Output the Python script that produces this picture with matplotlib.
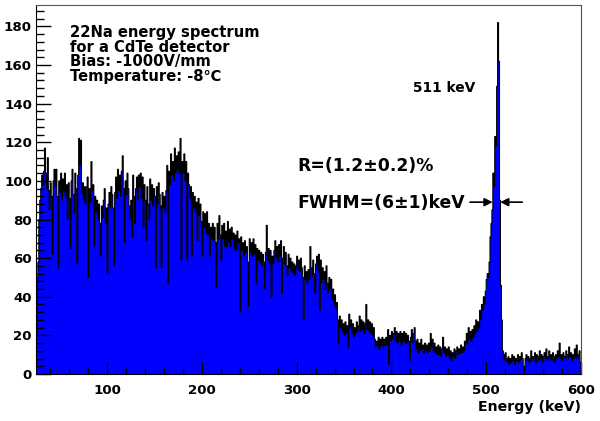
import numpy as np
import matplotlib
matplotlib.use("Agg")
import matplotlib.pyplot as plt
from matplotlib.ticker import MultipleLocator

plt.rcParams['font.family'] = ['DejaVu Sans']
plt.rcParams['font.weight'] = 'bold'

# 1 keV bins starting at 25 keV
e_start = 25
counts_lowE = [
    21, 50, 58, 80, 90, 96, 103, 98, 105, 117,
    104, 96, 112, 95, 85, 99, 92, 62, 100, 106,
    97, 106, 92, 55, 100, 94, 104, 90, 101, 95,
    104, 92, 98, 80, 99, 91, 65, 100, 106, 93,
    83, 104, 96, 57, 103, 122, 108, 121, 94, 99,
    90, 97, 88, 97, 102, 50, 96, 89, 110, 95,
    98, 66, 92, 84, 90, 80, 88, 78, 61, 87,
    81, 90, 96, 78, 86, 52, 88, 94, 86, 97,
    93, 86, 56, 94, 102, 91, 106, 95, 103, 92,
    105, 113, 96, 68, 100, 93, 104, 96, 87, 80,
    90, 71, 103, 92, 78, 96, 102, 90, 103, 97,
    104, 91, 102, 76, 98, 90, 69, 97, 88, 80,
    101, 90, 98, 87, 96, 92, 55, 97, 88, 99,
    93, 87, 55, 94, 86, 92, 84, 95, 108, 47,
    105, 98, 114, 103, 110, 100, 117, 104, 113, 106,
    115, 104, 122, 59, 110, 104, 114, 100, 110, 59,
    104, 98, 91, 97, 61, 94, 86, 92, 84, 89,
    69, 91, 82, 88, 79, 61, 84, 76, 83, 73,
    84, 72, 78, 61, 76, 70, 78, 69, 76, 68,
    45, 78, 70, 82, 72, 59, 77, 70, 78, 66,
]
counts_compton = [
    74, 66, 79, 68, 75, 66, 76, 70, 73, 65,
    72, 64, 74, 68, 70, 32, 71, 64, 68, 61,
    69, 63, 66, 58, 35, 70, 63, 68, 61, 70,
    62, 67, 47, 65, 59, 64, 57, 63, 56, 62,
    58, 44, 63, 77, 59, 65, 57, 64, 40, 61,
    57, 64, 69, 60, 66, 58, 67, 61, 69, 42,
    60, 66, 57, 63, 56, 51, 62, 55, 60, 53,
    58, 52, 57, 51, 56, 61, 54, 59, 53, 60,
    55, 50, 28, 56, 49, 53, 47, 54, 49, 66,
    55, 50, 59, 52, 42, 57, 61, 54, 62, 33,
    59, 47, 55, 49, 53, 44, 56, 47, 42, 50,
    44, 49, 39, 44, 36, 41, 34, 37, 28, 16,
    30, 24, 28, 22, 26, 20, 27, 21, 25, 14,
    31, 24, 28, 21, 26, 19, 24, 21, 27, 22,
    25, 30, 22, 28, 23, 27, 21, 26, 36, 23,
    28, 22, 27, 21, 26, 20, 24, 18, 14, 17,
    15, 19, 13, 18, 15, 19, 14, 18, 15, 19,
    15, 23, 5, 20, 17, 22, 18, 21, 24, 17,
    22, 16, 21, 17, 22, 15, 21, 17, 22, 16,
    21, 16, 20, 17, 7, 19, 23, 16, 21, 24,
]
counts_peak = [
    17, 13, 18, 11, 16, 12, 18, 13, 15, 11,
    16, 12, 15, 11, 16, 12, 21, 14, 18, 12,
    16, 11, 14, 10, 15, 10, 14, 9, 13, 19,
    11, 14, 9, 13, 10, 14, 8, 12, 7, 11,
    9, 13, 8, 12, 14, 10, 13, 11, 15, 11,
    14, 12, 17, 15, 21, 16, 24, 18, 22, 17,
    23, 19, 25, 21, 28, 22, 27, 24, 33, 28,
    36, 33, 40, 36, 43, 49, 52, 50, 58, 71,
    78, 85, 104, 97, 123, 118, 149, 182, 162, 90,
    46, 28, 12, 10, 7, 11, 8, 6, 9, 5,
    8, 6, 10, 7, 9, 5, 8, 7, 10, 6,
    9, 7, 11, 8, 4, 2, 8, 10, 7, 9,
    6, 8, 12, 7, 9, 8, 11, 6, 10, 9,
    7, 12, 8, 10, 6, 9, 11, 8, 13, 7,
    9, 12, 8, 10, 7, 11, 9, 6, 10, 8,
    12, 9, 16, 8, 10, 7, 11, 9, 8, 12,
    10, 8, 14, 9, 11, 7, 10, 8, 13, 9,
    15, 8, 10, 12, 6,
]

info_lines = ["22Na energy spectrum", "for a CdTe detector",
              "Bias: -1000V/mm", "Temperature: -8\u2103"]
resolution_txt = "R=(1.2\u00b10.2)%"
fwhm_txt = "FWHM=(6\u00b11)keV"
fwhm_lo, fwhm_hi, fwhm_y = 509.7, 511.8, 89

counts = np.array(counts_lowE + counts_compton + counts_peak, dtype=float)
edges = e_start + np.arange(len(counts) + 1)

fig = plt.figure(figsize=(6, 4.21), dpi=100)
ax = fig.add_axes([36/600, 1-374/421, 545/600, 369/421])

ax.stairs(counts, edges, fill=True, color='#0000ff', lw=0)
ax.stairs(counts, edges, color='black', lw=0.8)

ax.set_xlim(25, 600)
ax.set_ylim(0, 1.05*counts.max())

ax.xaxis.set_major_locator(MultipleLocator(100))
ax.xaxis.set_minor_locator(MultipleLocator(20))
ax.yaxis.set_major_locator(MultipleLocator(20))
ax.yaxis.set_minor_locator(MultipleLocator(4))
ax.tick_params(axis='both', which='both', direction='in', width=1,
               top=False, right=False, labelsize=9.6)
ax.tick_params(axis='y', which='major', length=11, pad=3)
ax.tick_params(axis='y', which='minor', length=5.5)
ax.tick_params(axis='x', which='major', length=9, pad=7)
ax.tick_params(axis='x', which='minor', length=4.5)
for lab in ax.get_xticklabels() + ax.get_yticklabels():
    lab.set_fontweight('bold')

ax.spines['top'].set_color('#555555')
ax.spines['right'].set_color('#a03030')

ax.set_xlabel("Energy (keV)", loc='right', fontsize=10.2, fontweight='bold', labelpad=2)

# info block, one line each (baselines)
for i, s in enumerate(info_lines):
    fig.text(70/600, 1 - (37 + 14.7*i)/421, s, fontsize=10.6, fontweight='bold', va='baseline')

fig.text(413/600, 1 - 92/421, "511 keV", fontsize=9.9, fontweight='bold', va='baseline')
fig.text(297/600, 1 - 171/421, resolution_txt, fontsize=12.4, fontweight='bold', va='baseline')
fig.text(297/600, 1 - 208/421, fwhm_txt, fontsize=12.4, fontweight='bold', va='baseline')

ax.annotate('', xy=(fwhm_lo, fwhm_y), xytext=(480, fwhm_y),
            arrowprops=dict(arrowstyle='-|>', color='k', lw=1.2, mutation_scale=12))
ax.annotate('', xy=(fwhm_hi, fwhm_y), xytext=(541, fwhm_y),
            arrowprops=dict(arrowstyle='-|>', color='k', lw=1.2, mutation_scale=12))

fig.savefig('out.png', dpi=100)
